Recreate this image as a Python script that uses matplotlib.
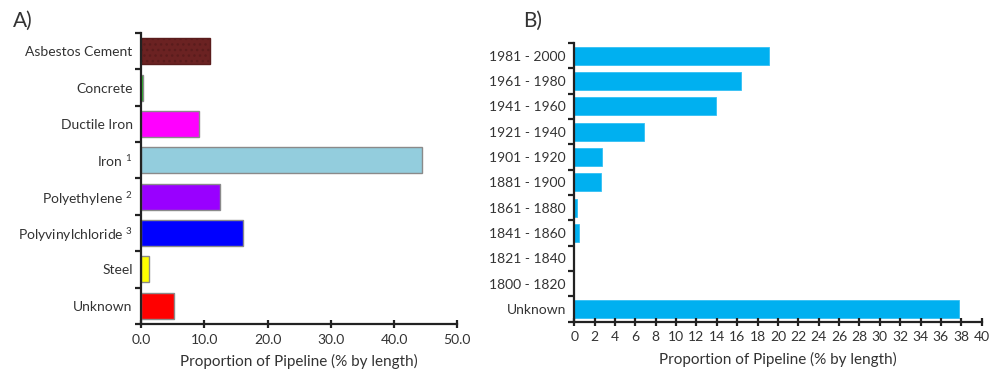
import numpy as np
import matplotlib.pyplot as plt
from matplotlib.ticker import FixedLocator, FormatStrFormatter

plt.rcParams['font.family'] = ['Lato', 'DejaVu Sans']
plt.rcParams['mathtext.fontset'] = 'custom'
plt.rcParams['mathtext.rm'] = 'Lato'
plt.rcParams['mathtext.default'] = 'rm'

# Panel A: pipe material
materials = ['Asbestos Cement', 'Concrete', 'Ductile Iron', 'Iron $^{1}$',
             'Polyethylene $^{2}$', 'Polyvinylchloride $^{3}$', 'Steel', 'Unknown']
material_share = [10.9, 0.3, 9.1, 44.5, 12.5, 16.1, 1.3, 5.2]
material_colors = ['#6B2222', '#00D000', '#FF00FF', '#93CDDD',
                   '#9900FF', '#0000FF', '#FFFF00', '#FF0000']

# Panel B: installation period
periods = ['1981 - 2000', '1961 - 1980', '1941 - 1960', '1921 - 1940',
           '1901 - 1920', '1881 - 1900', '1861 - 1880', '1841 - 1860',
           '1821 - 1840', '1800 - 1820', 'Unknown']
period_share = [19.1, 16.4, 13.9, 6.8, 2.75, 2.6, 0.25, 0.5, 0.0, 0.0, 37.8]

TEXT = '#333333'
AXIS = '#222222'


def style_axes(ax, n):
    # Only left and bottom spines, ticks between categories
    for side in ['top', 'right']:
        ax.spines[side].set_visible(False)
    for side in ['left', 'bottom']:
        ax.spines[side].set_linewidth(1.6)
        ax.spines[side].set_color(AXIS)
    ax.set_ylim(n - 0.5, -0.5)
    ax.yaxis.set_major_locator(FixedLocator(np.arange(-0.5, n, 1.0)))
    ax.yaxis.set_major_formatter(plt.NullFormatter())
    ax.yaxis.set_minor_locator(FixedLocator(np.arange(n)))
    ax.tick_params(axis='y', which='major', length=4, width=1.6, color=AXIS)
    ax.tick_params(axis='y', which='minor', length=0, pad=6,
                   labelsize=10, labelcolor=TEXT)
    ax.set_xlabel('Proportion of Pipeline (% by length)', fontsize=11,
                  color=TEXT, labelpad=6)


fig = plt.figure(figsize=(9.93, 3.81), dpi=100)

# Panel A
ax_a = fig.add_axes([0.142, 0.150, 0.3185, 0.763])
y_a = np.arange(len(materials))
bars = ax_a.barh(y_a, material_share, height=0.72, color=material_colors,
                 edgecolor='#8a8a8a', linewidth=1.0)
bars[0].set_hatch('...')
bars[0].set_edgecolor('#5a1c1c')
style_axes(ax_a, len(materials))
ax_a.set_yticks(y_a, minor=True)
ax_a.set_yticklabels(materials, minor=True)
ax_a.set_xlim(0, 50)
ax_a.set_xticks(np.arange(0, 51, 10))
ax_a.xaxis.set_major_formatter(FormatStrFormatter('%.1f'))
ax_a.tick_params(axis='x', direction='inout', length=6, width=1.6,
                 color=AXIS, labelsize=10, labelcolor=TEXT, pad=4)

# Panel B
ax_b = fig.add_axes([0.5783, 0.156, 0.4103, 0.731])
y_b = np.arange(len(periods))
ax_b.barh(y_b, period_share, height=0.72, color='#00B0F0',
          edgecolor='#33C0F4', linewidth=0.6)
style_axes(ax_b, len(periods))
ax_b.set_yticks(y_b, minor=True)
ax_b.set_yticklabels(periods, minor=True)
ax_b.set_xlim(0, 40)
ax_b.set_xticks(np.arange(0, 41, 2))
ax_b.tick_params(axis='x', direction='inout', length=6, width=1.6,
                 color=AXIS, labelsize=10, labelcolor=TEXT, pad=4)

fig.text(0.013, 0.945, 'A)', fontsize=15, color=TEXT, va='center')
fig.text(0.527, 0.945, 'B)', fontsize=15, color=TEXT, va='center')

fig.savefig('out.png', dpi=100, facecolor='white')
